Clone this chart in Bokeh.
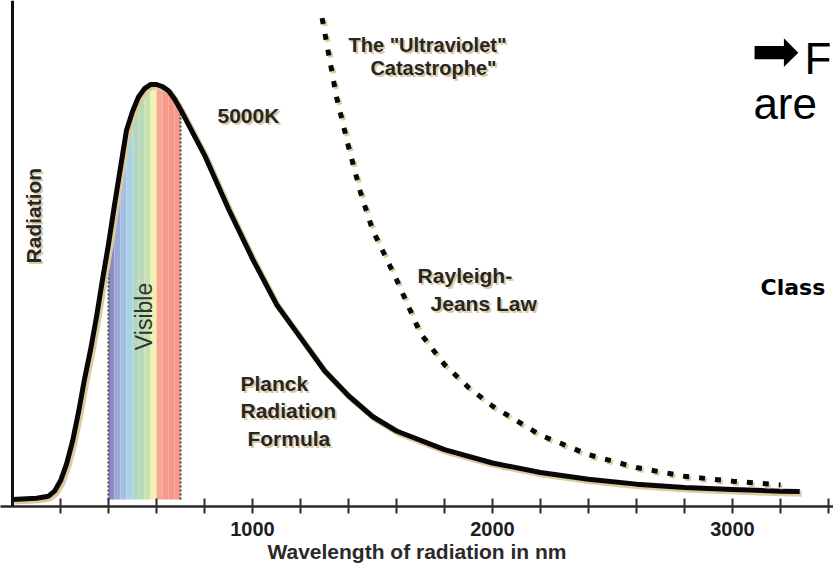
import math
from bokeh.plotting import figure
from bokeh.models import ColumnDataSource, Range1d, FixedTicker, Span
from bokeh.transform import dodge
from bokeh.core.properties import value
from bokeh.embed import file_html
from bokeh.resources import INLINE

# ---- data (relative radiation, peak = 1) ----
planck_nm = [0, 100, 150, 175, 200, 225, 250, 275, 300, 325, 350, 375,
             400, 425, 450, 475, 500, 525, 550, 575, 600, 625, 650, 675, 700,
             800, 900, 1000, 1100, 1200, 1300, 1400, 1500, 1600,
             1800, 2000, 2200, 2400, 2600, 2800, 3000, 3200, 3280]
planck_val = [0.0, 0.003, 0.008, 0.02, 0.045, 0.085, 0.14, 0.21, 0.29, 0.36, 0.44, 0.53,
              0.615, 0.71, 0.80, 0.89, 0.935, 0.97, 0.99, 1.0, 1.0, 0.995, 0.985, 0.965, 0.94,
              0.83, 0.70, 0.58, 0.47, 0.39, 0.31, 0.25, 0.20, 0.165,
              0.12, 0.088, 0.065, 0.049, 0.037, 0.029, 0.024, 0.020, 0.019]

rj_nm = [1290, 1350, 1400, 1450, 1500, 1600, 1700, 1800, 1900, 2000,
         2200, 2400, 2600, 2800, 3000, 3200]
rj_val = [1.16, 0.97, 0.85, 0.74, 0.65, 0.53, 0.40, 0.325, 0.27, 0.225,
          0.155, 0.108, 0.077, 0.056, 0.044, 0.035]

visible_edges = [400, 700]
band_colors = ["#8c8cc4", "#9aaad8", "#a2c0e4", "#a8d2e6", "#b2d8c4", "#b8dab8",
               "#c6e0b0", "#f4f0b0", "#f8a894", "#f6988a", "#f6968a", "#f59a8c"]

tick_nm = [200, 400, 600, 800, 1000, 1200, 1400, 1600, 1800, 2000,
           2200, 2400, 2600, 2800, 3000, 3200, 3400]
labeled_ticks = [1000, 2000, 3000]

BEIGE = "#dccb9e"
INK = "#1e1e1e"

p = figure(width=833, height=574,
           x_range=Range1d(-50, 3420.8), y_range=Range1d(-0.0169, 1.2024),
           output_backend="svg", toolbar_location=None,
           min_border_left=0, min_border_right=0, min_border_top=0,
           min_border_bottom=68)
p.outline_line_color = None
p.xgrid.visible = False
p.ygrid.visible = False
p.yaxis.visible = False
p.background_fill_color = "white"
p.border_fill_color = "white"

# visible band
i0 = planck_nm.index(visible_edges[0])
i1 = planck_nm.index(visible_edges[1])
for k, i in enumerate(range(i0, i1)):
    p.varea(x=[planck_nm[i], planck_nm[i + 1]], y1=[0, 0],
            y2=[planck_val[i], planck_val[i + 1]], fill_color=band_colors[k])
p.segment(x0=visible_edges, y0=[0, 0], x1=visible_edges,
          y1=[planck_val[i0], planck_val[i1]],
          line_color="#444444", line_width=2, line_dash="2 2")

# y axis line
p.add_layout(Span(location=0, dimension="height", line_color="#111111", line_width=3))

# Planck curve
src = ColumnDataSource(dict(nm=planck_nm, v=planck_val))
p.line(x=dodge("nm", 8, range=p.x_range), y=dodge("v", -0.005, range=p.y_range),
       source=src, line_color=BEIGE, line_width=6, line_join="round")
p.line(x="nm", y="v", source=src, line_color="#080808", line_width=5, line_join="round")

# Rayleigh-Jeans
rsrc = ColumnDataSource(dict(nm=rj_nm, v=rj_val))
p.line(x=dodge("nm", 8, range=p.x_range), y=dodge("v", -0.005, range=p.y_range),
       source=rsrc, line_color=BEIGE, line_width=5, line_dash="6 10")
p.line(x="nm", y="v", source=rsrc, line_color="#080808", line_width=5, line_dash="6 10")

# x axis
ax = p.xaxis[0]
ax.ticker = FixedTicker(ticks=tick_nm)
ax.major_label_overrides = {t: (str(t) if t in labeled_ticks else "") for t in tick_nm}
ax.minor_tick_line_color = None
ax.axis_line_color = "#2a2a2a"
ax.axis_line_width = 2.5
ax.major_tick_line_color = "#2a2a2a"
ax.major_tick_line_width = 2
ax.major_tick_in = 8
ax.major_tick_out = 7
ax.major_label_standoff = 8
ax.major_label_text_font = "Liberation Sans"
ax.major_label_text_font_style = "bold"
ax.major_label_text_font_size = "20px"
ax.major_label_text_color = INK
ax.axis_label = "Wavelength of radiation in nm"
ax.axis_label_standoff = 1
ax.axis_label_text_font = "Liberation Sans"
ax.axis_label_text_font_style = "bold"
ax.axis_label_text_font_size = "21px"
ax.axis_label_text_color = "#2a2a2a"


def label(x, y, txt, size, align="center", angle=0.0, bold=True, shadow=True,
          color="#262626", font="Liberation Sans"):
    style = "bold" if bold else "normal"
    if shadow:
        p.text(x=[x], y=[y], text=[txt], text_font=value(font), text_font_size=f"{size}px",
               text_font_style=style, text_color=BEIGE, text_align=align,
               text_baseline="middle", angle=angle, x_offset=2, y_offset=2)
    p.text(x=[x], y=[y], text=[txt], text_font=value(font), text_font_size=f"{size}px",
           text_font_style=style, text_color=color, text_align=align,
           text_baseline="middle", angle=angle)


label(1729, 1.094, 'The "Ultraviolet"', 20)
label(1754, 1.039, 'Catastrophe"', 20)
label(983, 0.925, "5000K", 21)
label(1688, 0.540, "Rayleigh-", 21, align="left")
label(1742, 0.472, "Jeans Law", 21, align="left")
label(950, 0.280, "Planck", 21, align="left")
label(950, 0.214, "Radiation", 21, align="left")
label(979, 0.147, "Formula", 21, align="left")
label(87.5, 0.684, "Radiation", 21, angle=math.pi / 2)
label(546, 0.441, "Visible", 23, angle=math.pi / 2, bold=False, shadow=False, color="#333333")

# slide text at the right edge
label(3078, 1.080, "\u27a1", 58, align="left", bold=False, shadow=False,
      color="#000000", font="DejaVu Sans")
label(3300, 1.063, "F", 44, align="left", bold=False, shadow=False, color="#000000")
label(3087, 0.955, "are", 44, align="left", bold=False, shadow=False, color="#000000")
label(3117, 0.512, "Class", 22, align="left", bold=True, shadow=False,
      color="#000000", font="DejaVu Sans")

open("out.html", "w").write(file_html(p, INLINE))
